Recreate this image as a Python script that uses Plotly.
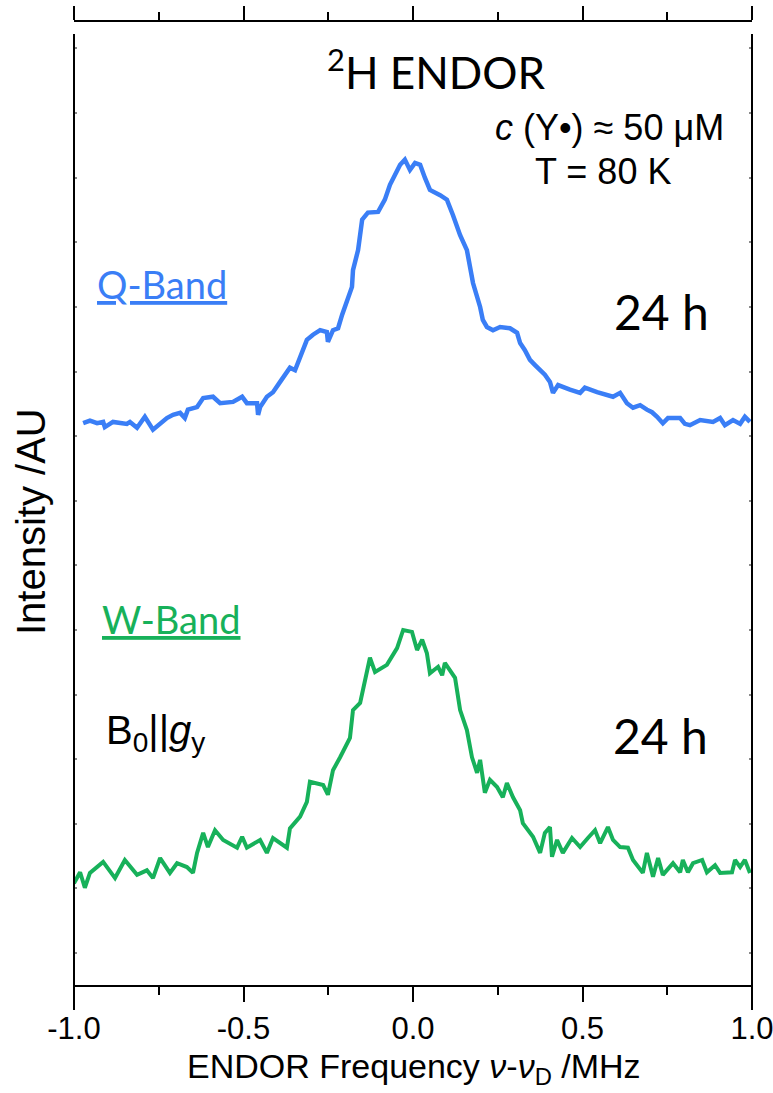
import plotly.graph_objects as go

# ---- data ----
freq_q = [-0.973,-0.953,-0.932,-0.914,-0.909,-0.885,-0.844,-0.835,-0.814,-0.791,
          -0.767,-0.746,-0.726,-0.708,-0.687,-0.673,-0.664,-0.637,-0.619,-0.590,
          -0.569,-0.531,-0.504,-0.490,-0.460,-0.457,-0.451,-0.431,-0.413,-0.392,
          -0.372,-0.363,-0.348,-0.333,-0.313,-0.295,-0.274,-0.254,-0.251,-0.236,
          -0.221,-0.209,-0.195,-0.180,-0.177,-0.162,-0.150,-0.133,-0.103,-0.083,
          -0.068,-0.053,-0.038,-0.024,-0.009,0.006,0.021,0.035,0.050,0.080,
          0.100,0.118,0.139,0.159,0.168,0.177,0.198,0.206,0.218,0.236,
          0.257,0.286,0.307,0.316,0.330,0.345,0.360,0.375,0.389,0.404,
          0.413,0.428,0.442,0.463,0.493,0.507,0.543,0.566,0.590,0.611,
          0.631,0.649,0.670,0.690,0.705,0.720,0.737,0.752,0.788,0.802,
          0.817,0.847,0.885,0.906,0.920,0.944,0.965,0.979,0.994]
int_q = [8.20,8.24,8.20,8.22,8.14,8.22,8.19,8.22,8.13,8.30,
         8.10,8.20,8.28,8.33,8.36,8.28,8.41,8.45,8.59,8.61,
         8.51,8.53,8.61,8.51,8.51,8.33,8.45,8.61,8.68,8.84,
         8.98,9.06,9.02,9.23,9.49,9.57,9.64,9.61,9.46,9.64,
         9.67,9.88,10.11,10.31,10.57,10.88,11.35,11.46,11.47,11.66,
         11.89,12.04,12.20,12.28,12.12,12.23,12.20,12.00,11.81,11.73,
         11.66,11.42,11.11,10.88,10.57,10.37,10.00,9.80,9.69,9.64,
         9.69,9.67,9.60,9.44,9.33,9.18,9.10,9.02,8.95,8.84,
         8.67,8.79,8.76,8.72,8.67,8.75,8.68,8.65,8.61,8.67,
         8.51,8.44,8.48,8.41,8.37,8.30,8.20,8.28,8.28,8.19,
         8.17,8.25,8.22,8.28,8.17,8.25,8.19,8.30,8.22]

freq_w = [-1.0,-0.982,-0.968,-0.953,-0.914,-0.879,-0.850,-0.814,-0.785,-0.767,
          -0.746,-0.717,-0.696,-0.667,-0.649,-0.637,-0.619,-0.605,-0.584,-0.560,
          -0.519,-0.504,-0.490,-0.451,-0.431,-0.413,-0.372,-0.363,-0.333,-0.313,
          -0.304,-0.265,-0.251,-0.236,-0.215,-0.186,-0.177,-0.156,-0.127,-0.112,
          -0.077,-0.047,-0.029,-0.003,0.012,0.027,0.041,0.050,0.074,0.086,
          0.094,0.109,0.124,0.139,0.159,0.174,0.189,0.198,0.212,0.227,
          0.248,0.265,0.277,0.295,0.316,0.324,0.354,0.375,0.389,0.404,
          0.410,0.425,0.442,0.469,0.493,0.516,0.537,0.552,0.575,0.590,
          0.611,0.634,0.649,0.678,0.690,0.708,0.723,0.737,0.767,0.788,
          0.796,0.811,0.826,0.853,0.867,0.891,0.906,0.941,0.950,0.965,
          0.979,0.994]
int_w = [1.08,1.25,1.01,1.24,1.41,1.16,1.44,1.21,1.28,1.16,
         1.47,1.24,1.39,1.33,1.24,1.55,1.86,1.64,1.90,1.75,
         1.63,1.80,1.63,1.75,1.55,1.78,1.63,1.93,2.11,2.34,
         2.65,2.60,2.45,2.83,3.03,3.33,3.76,3.87,4.57,4.35,
         4.46,4.72,5.00,4.97,4.69,4.85,4.64,4.33,4.43,4.30,
         4.49,4.38,4.26,3.76,3.45,3.03,2.79,2.99,2.48,2.68,
         2.57,2.41,2.63,2.41,2.21,2.01,1.80,1.55,1.86,1.95,
         1.49,1.75,1.55,1.78,1.64,1.78,1.90,1.70,1.95,1.75,
         1.64,1.63,1.44,1.24,1.55,1.18,1.47,1.21,1.39,1.25,
         1.44,1.25,1.39,1.44,1.25,1.36,1.24,1.25,1.44,1.33,
         1.44,1.24]

x_range = [-1.0, 1.0]
x_ticks = [-1.0, -0.5, 0.0, 0.5, 1.0]
x_ticklabels = ["-1.0", "-0.5", "0.0", "0.5", "1.0"]
y_range = [-0.495, 14.41]

BLUE = "#3A7EF6"
GREEN = "#17B15A"
NARROW = "Liberation Sans Narrow, Liberation Sans, Arial"
SANS = "Liberation Sans, Arial"
CAL = "Lato, Carlito, Calibri, sans-serif"

fig = go.Figure()
fig.add_trace(go.Scatter(x=freq_q, y=int_q, mode="lines",
                         line=dict(color=BLUE, width=4.5), showlegend=False))
fig.add_trace(go.Scatter(x=freq_w, y=int_w, mode="lines",
                         line=dict(color=GREEN, width=4), showlegend=False))
# invisible trace for the top axis
fig.add_trace(go.Scatter(x=x_range, y=[None, None], xaxis="x2", mode="lines",
                         showlegend=False, hoverinfo="skip"))

W, H = 773, 1093
L, R, T, B = 74, 21, 22, 108
PW, PH = W - L - R, H - T - B


def px(x):
    return (x - L) / PW


def py(y):
    return (H - B - y) / PH


fig.update_layout(
    width=W, height=H,
    margin=dict(l=L, r=R, t=T, b=B, autoexpand=False),
    paper_bgcolor="white", plot_bgcolor="white",
    xaxis=dict(range=x_range, tickvals=x_ticks, ticktext=x_ticklabels,
               showline=True, linecolor="black", linewidth=2,
               ticks="outside", ticklen=15, tickwidth=2, tickcolor="black",
               minor=dict(dtick=0.25, tick0=0, ticks="outside", ticklen=8,
                          tickwidth=2, tickcolor="black"),
               showgrid=False, zeroline=False, ticklabeloverflow="allow",
               automargin=False,
               tickfont=dict(family=NARROW, size=31, color="black")),
    xaxis2=dict(range=x_range, overlaying="x", side="top", anchor="y",
                tickvals=x_ticks, showticklabels=False, automargin=False,
                showline=True, linecolor="black", linewidth=2,
                ticks="outside", ticklen=14, tickwidth=2, tickcolor="black",
                minor=dict(dtick=0.25, tick0=0, ticks="outside", ticklen=8,
                           tickwidth=2, tickcolor="black"),
                showgrid=False, zeroline=False),
    yaxis=dict(range=y_range, tick0=0, dtick=1, showticklabels=False,
               showline=False, ticks="inside", ticklen=3, tickwidth=1.5,
               tickcolor="#8a8a8a", mirror="ticks", automargin=False,
               showgrid=False, zeroline=False),
)

# frame verticals (detached from the top axis)
for xv in (0, 1):
    fig.add_shape(type="line", xref="paper", yref="paper",
                  x0=xv, x1=xv, y0=py(34), y1=py(1010),
                  line=dict(color="black", width=2))

ann = [
    dict(text="<sup>2</sup>H ENDOR", x=px(436), y=py(69), xanchor="center",
         font=dict(family=CAL, size=44, color="black")),
    dict(text="<i>c</i> (Y•) ≈ 50 μM", x=px(609), y=py(127), xanchor="center",
         font=dict(family=SANS, size=36, color="black")),
    dict(text="T = 80 K", x=px(603), y=py(171), xanchor="center",
         font=dict(family=SANS, size=36, color="black")),
    dict(text="Q-Band", x=px(95), y=py(284), xanchor="left",
         font=dict(family=CAL, size=38, color=BLUE, lineposition="under")),
    dict(text="24 h", x=px(661), y=py(312), xanchor="center",
         font=dict(family=CAL, size=48, color="black")),
    dict(text="W-Band", x=px(100), y=py(619), xanchor="left",
         font=dict(family=CAL, size=38, color=GREEN, lineposition="under")),
    dict(text="B<sub>0</sub>||<i>g</i><sub>y</sub>", x=px(104), y=py(733), xanchor="left",
         font=dict(family=SANS, size=40, color="black")),
    dict(text="24 h", x=px(660), y=py(735), xanchor="center",
         font=dict(family=CAL, size=48, color="black")),
    dict(text="ENDOR Frequency <i>ν</i>-<i>ν</i><sub>D</sub> /MHz", x=px(414), y=py(1068),
         xanchor="center", font=dict(family=NARROW, size=34, color="black")),
    dict(text="Intensity /AU", x=px(31), y=py(522), xanchor="center", textangle=-90,
         font=dict(family=SANS, size=40, color="black")),
]
for a in ann:
    fig.add_annotation(xref="paper", yref="paper", yanchor="middle",
                       showarrow=False, **a)

fig.write_html("out.html")
